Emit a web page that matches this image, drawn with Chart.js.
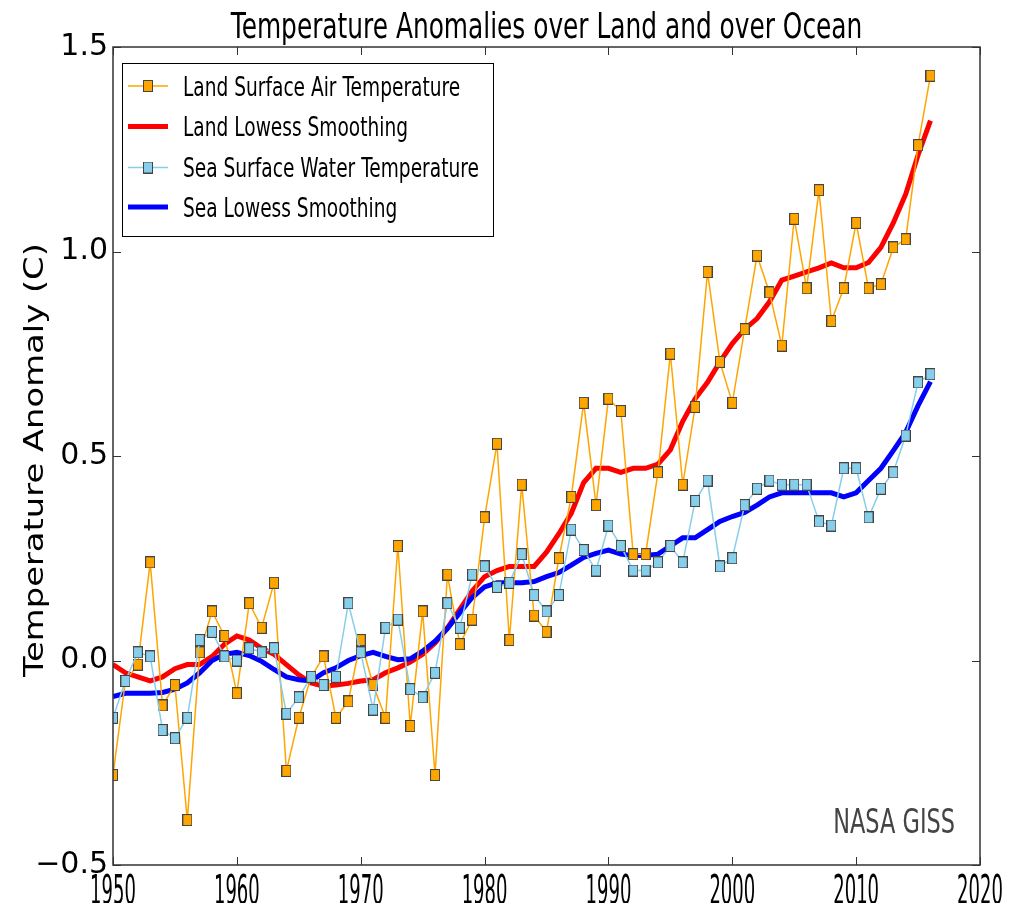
<!DOCTYPE html>
<html>
<head>
<meta charset="utf-8">
<script src="https://cdn.jsdelivr.net/npm/chart.js@4.4.1/dist/chart.umd.min.js"></script>
<style>
  html, body { margin: 0; padding: 0; background: #fff; }
  #wrap { width: 1028px; height: 903px; position: relative; }
</style>
</head>
<body>
<div id="wrap"><canvas id="chart"></canvas></div>
<script>
// years 1950 - 2016
const years = [];
for (let y = 1950; y <= 2016; y++) years.push(y);

const landTemp = [
  -0.28, -0.05, -0.01, 0.24, -0.11, -0.06, -0.39, 0.02, 0.12, 0.06,
  -0.08, 0.14, 0.08, 0.19, -0.27, -0.14, -0.04, 0.01, -0.14, -0.10,
  0.05, -0.06, -0.14, 0.28, -0.16, 0.12, -0.28, 0.21, 0.04, 0.10,
  0.35, 0.53, 0.05, 0.43, 0.11, 0.07, 0.25, 0.40, 0.63, 0.38,
  0.64, 0.61, 0.26, 0.26, 0.46, 0.75, 0.43, 0.62, 0.95, 0.73,
  0.63, 0.81, 0.99, 0.90, 0.77, 1.08, 0.91, 1.15, 0.83, 0.91,
  1.07, 0.91, 0.92, 1.01, 1.03, 1.26, 1.43
];

const landLowess = [
  -0.01, -0.03, -0.04, -0.05, -0.04, -0.02, -0.01, -0.01, 0.01, 0.04,
  0.06, 0.05, 0.03, 0.015, -0.01, -0.035, -0.055, -0.063, -0.06, -0.056,
  -0.05, -0.047, -0.03, -0.018, -0.004, 0.015, 0.043, 0.08, 0.125, 0.17,
  0.205, 0.22, 0.23, 0.23, 0.23, 0.265, 0.31, 0.36, 0.435, 0.47,
  0.47, 0.46, 0.47, 0.47, 0.48, 0.515, 0.585, 0.64, 0.68, 0.73,
  0.775, 0.81, 0.836, 0.877, 0.93, 0.94, 0.95, 0.96, 0.972, 0.96,
  0.96, 0.973, 1.01, 1.07, 1.14, 1.236, 1.32
];

const seaTemp = [
  -0.14, -0.05, 0.02, 0.01, -0.17, -0.19, -0.14, 0.05, 0.07, 0.01,
  0.00, 0.03, 0.02, 0.03, -0.13, -0.09, -0.04, -0.06, -0.04, 0.14,
  0.02, -0.12, 0.08, 0.10, -0.07, -0.09, -0.03, 0.14, 0.08, 0.21,
  0.23, 0.18, 0.19, 0.26, 0.16, 0.12, 0.16, 0.32, 0.27, 0.22,
  0.33, 0.28, 0.22, 0.22, 0.24, 0.28, 0.24, 0.39, 0.44, 0.23,
  0.25, 0.38, 0.42, 0.44, 0.43, 0.43, 0.43, 0.34, 0.33, 0.47,
  0.47, 0.35, 0.42, 0.46, 0.55, 0.68, 0.70
];

const seaLowess = [
  -0.088, -0.08, -0.08, -0.08, -0.078, -0.07, -0.055, -0.03, 0.0, 0.015,
  0.02, 0.012, -0.002, -0.022, -0.04, -0.047, -0.05, -0.03, -0.018, 0.0,
  0.012, 0.02, 0.01, 0.002, 0.004, 0.023, 0.047, 0.078, 0.117, 0.154,
  0.18, 0.19, 0.19, 0.19, 0.193, 0.205, 0.215, 0.233, 0.252, 0.262,
  0.27, 0.26, 0.257, 0.257, 0.26, 0.28, 0.30, 0.30, 0.32, 0.34,
  0.352, 0.362, 0.38, 0.40, 0.41, 0.41, 0.41, 0.41, 0.41, 0.40,
  0.41, 0.44, 0.47, 0.513, 0.558, 0.623, 0.682
];

const xTicks = [1950, 1960, 1970, 1980, 1990, 2000, 2010, 2020];
const yTicks = [-0.5, 0.0, 0.5, 1.0, 1.5];

const titleText = "Temperature Anomalies over Land and over Ocean";
const yTitle = "Temperature Anomaly (C)";
const sourceText = "NASA GISS";

const FONT = '"DejaVu Sans", Verdana, sans-serif';

function pts(vals) {
    return vals.map((v, i) => ({ x: years[i], y: v }));
}

// small square marker (a bit taller than wide, like the picture)
function makeMarker(fill) {
    const c = document.createElement("canvas");
    c.width = 10; c.height = 12;
    const g = c.getContext("2d");
    g.fillStyle = fill;
    g.fillRect(0.5, 0.5, 9, 11);
    g.strokeStyle = "#444";
    g.lineWidth = 1;
    g.strokeRect(0.5, 0.5, 9, 11);
    return c;
}
const landMarker = makeMarker("#FFA500");
const seaMarker = makeMarker("#87CEEB");

// text squeezed (or stretched) along its own direction
function squashText(ctx, text, x, y, size, sx, align, color, rot) {
    ctx.save();
    ctx.font = size + "px " + FONT;
    ctx.fillStyle = color;
    ctx.textAlign = align;
    ctx.textBaseline = "alphabetic";
    ctx.translate(x, y);
    if (rot) ctx.rotate(rot);
    ctx.scale(sx, 1);
    ctx.fillText(text, 0, 0);
    ctx.restore();
}

const decorPlugin = {
    id: "decor",
    afterDraw(chart) {
        const ctx = chart.ctx;
        const a = chart.chartArea;
        const xs = chart.scales.x, ys = chart.scales.y;

        // frame
        ctx.save();
        ctx.strokeStyle = "#333";
        ctx.lineWidth = 1.5;
        ctx.strokeRect(a.left, a.top, a.right - a.left, a.bottom - a.top);

        // inward ticks
        ctx.lineWidth = 1;
        ctx.beginPath();
        xTicks.forEach(v => {
            const px = Math.round(xs.getPixelForValue(v)) + 0.5;
            ctx.moveTo(px, a.bottom); ctx.lineTo(px, a.bottom - 8);
            ctx.moveTo(px, a.top); ctx.lineTo(px, a.top + 8);
        });
        yTicks.forEach(v => {
            const py = Math.round(ys.getPixelForValue(v)) + 0.5;
            ctx.moveTo(a.left, py); ctx.lineTo(a.left + 8, py);
            ctx.moveTo(a.right, py); ctx.lineTo(a.right - 8, py);
        });
        ctx.stroke();
        ctx.restore();

        // x tick labels
        xTicks.forEach(v => {
            squashText(ctx, String(v), xs.getPixelForValue(v), a.bottom + 39, 40, 0.45, "center", "#000");
        });

        // y axis title, stretched along its length
        squashText(ctx, yTitle, 43, (a.top + a.bottom) / 2 + 4, 26, 1.3, "center", "#000", -Math.PI / 2);

        // title
        squashText(ctx, titleText, (a.left + a.right) / 2, 38, 36, 0.69, "center", "#000");

        // source
        squashText(ctx, sourceText, 955, 833, 34, 0.66, "right", "#444");

        // legend
        const lx = 122, ly = 63, lw = 371, lh = 173;
        ctx.save();
        ctx.fillStyle = "#fff";
        ctx.fillRect(lx, ly, lw, lh);
        ctx.strokeStyle = "#000";
        ctx.lineWidth = 1;
        ctx.strokeRect(lx + 0.5, ly + 0.5, lw, lh);
        const rows = [86, 126.5, 167.5, 207];
        chart.data.datasets.forEach((ds, r) => {
            const cy = rows[r];
            ctx.strokeStyle = ds.borderColor;
            ctx.lineWidth = ds.borderWidth;
            ctx.beginPath();
            ctx.moveTo(128, cy); ctx.lineTo(168, cy);
            ctx.stroke();
            if (ds.pointStyle && typeof ds.pointStyle === "object") {
                ctx.drawImage(ds.pointStyle, 148 - 5, cy - 6);
            }
            squashText(ctx, ds.label, 183, cy + 9.5, 26, 0.715, "left", "#000");
        });
        ctx.restore();
    }
};

const chart = new Chart(document.getElementById("chart"), {
    type: "line",
    data: {
        datasets: [
            {
                label: "Land Surface Air Temperature",
                data: pts(landTemp),
                borderColor: "#FFA500",
                borderWidth: 1.5,
                pointStyle: landMarker,
                pointRadius: 5,
                tension: 0,
                order: 2
            },
            {
                label: "Land Lowess Smoothing",
                data: pts(landLowess),
                borderColor: "#FF0000",
                borderWidth: 5,
                pointRadius: 0,
                tension: 0,
                order: 4
            },
            {
                label: "Sea Surface Water Temperature",
                data: pts(seaTemp),
                borderColor: "#87CEEB",
                borderWidth: 1.5,
                pointStyle: seaMarker,
                pointRadius: 5,
                tension: 0,
                order: 1
            },
            {
                label: "Sea Lowess Smoothing",
                data: pts(seaLowess),
                borderColor: "#0000FF",
                borderWidth: 5,
                pointRadius: 0,
                tension: 0,
                order: 3
            }
        ]
    },
    options: {
        responsive: true,
        maintainAspectRatio: false,
        animation: false,
        layout: { padding: { top: 47, right: 48, bottom: 0, left: 0 } },
        plugins: {
            legend: { display: false },
            tooltip: { enabled: false },
            title: { display: false }
        },
        scales: {
            x: {
                type: "linear",
                min: 1950,
                max: 2020,
                grid: { display: false, drawTicks: false },
                border: { display: false },
                ticks: { display: false },
                afterFit: s => { s.height = 38; }
            },
            y: {
                min: -0.5,
                max: 1.5,
                grid: { display: false, drawTicks: false },
                border: { display: false },
                afterBuildTicks: s => { s.ticks = yTicks.map(v => ({ value: v })); },
                afterFit: s => { s.width = 113; },
                ticks: {
                    padding: 5,
                    color: "#000",
                    font: { family: FONT, size: 30 },
                    callback: v => (v < 0 ? "\u2212" : "") + Math.abs(v).toFixed(1)
                }
            }
        }
    },
    plugins: [decorPlugin]
});
</script>
</body>
</html>
